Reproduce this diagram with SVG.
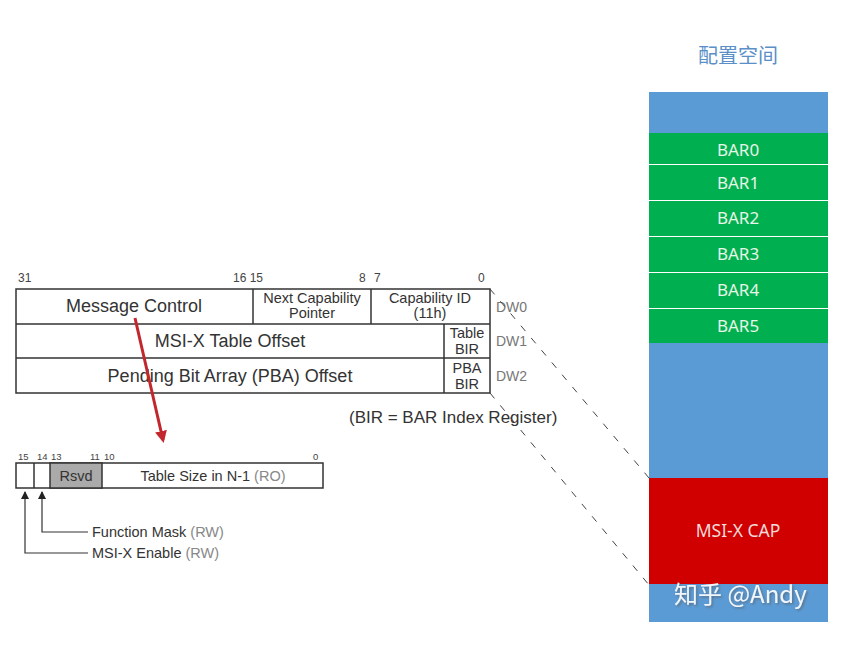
<svg xmlns="http://www.w3.org/2000/svg" width="841" height="658" viewBox="0 0 841 658">
<style>
text{font-family:"Liberation Sans",Arial,sans-serif;fill:#333}
.box{fill:#fff;stroke:#333;stroke-width:1.5}
.bit{font-size:12px;fill:#444}
.sbit{font-size:9.5px;fill:#444}
.dw{font-size:14px;fill:#777}
.mid{text-anchor:middle}
.reg{font-size:18px}
.small{font-size:14.5px}
.gray{fill:#888}
.bar{font-family:"Noto Sans","Liberation Sans",sans-serif;font-size:17px;fill:#e8f5e8;text-anchor:middle}
.dash{stroke:#444;stroke-width:1;stroke-dasharray:7,9;fill:none}
.lead{stroke:#333;stroke-width:1.2;fill:none}
.lbl{font-size:14.5px}
</style>
<defs>
<marker id="redhead" markerWidth="12" markerHeight="12" refX="9" refY="6" orient="auto" markerUnits="userSpaceOnUse">
<path d="M0,0 L12,6 L0,12 z" fill="#c1272d"/>
</marker>
<marker id="blackhead" markerWidth="8" markerHeight="9" refX="7" refY="4" orient="auto" markerUnits="userSpaceOnUse">
<path d="M0,0 L8,4 L0,8 z" fill="#222"/>
</marker>
<filter id="shadow" x="-10%" y="-30%" width="120%" height="160%">
<feDropShadow dx="1.5" dy="1.5" stdDeviation="1" flood-color="#555" flood-opacity="0.6"/>
</filter>
</defs>
<rect width="841" height="658" fill="#fff"/>

<g id="config-space">
<text x="738" y="63" class="mid" style="font-family:'Noto Sans CJK SC',sans-serif;font-size:20px;fill:#5b8fc7">配置空间</text>
<rect x="649" y="92" width="179" height="41" fill="#5b9bd5"/>
<rect x="649" y="343" width="179" height="135" fill="#5b9bd5"/>
<rect x="649" y="584" width="179" height="38" fill="#5b9bd5"/>
<rect x="649" y="478" width="179" height="106" fill="#d00000"/>
</g>
<g id="bar0"><rect x="649" y="133" width="179" height="31" fill="#00b050"/><text x="738" y="156" class="bar">BAR0</text></g>
<g id="bar1"><rect x="649" y="165" width="179" height="35" fill="#00b050"/><text x="738" y="189" class="bar">BAR1</text></g>
<g id="bar2"><rect x="649" y="201" width="179" height="35" fill="#00b050"/><text x="738" y="224" class="bar">BAR2</text></g>
<g id="bar3"><rect x="649" y="237" width="179" height="35" fill="#00b050"/><text x="738" y="260" class="bar">BAR3</text></g>
<g id="bar4"><rect x="649" y="273" width="179" height="35" fill="#00b050"/><text x="738" y="296" class="bar">BAR4</text></g>
<g id="bar5"><rect x="649" y="309" width="179" height="34" fill="#00b050"/><text x="738" y="332" class="bar">BAR5</text></g>
<g id="msix-cap"><text x="738" y="537" class="bar" style="fill:#f4dada;font-size:17.5px">MSI-X CAP</text></g>
<g id="watermark">
<text x="674" y="603" filter="url(#shadow)" style="font-family:'Noto Sans CJK SC',sans-serif;font-size:24px;fill:#f2f6fb">知乎 @Andy</text>
</g>

<g id="capability-table">
<text x="18" y="282" class="bit">31</text>
<text x="233" y="282" class="bit">16 15</text>
<text x="359" y="282" class="bit">8</text>
<text x="374" y="282" class="bit">7</text>
<text x="478" y="282" class="bit">0</text>
<rect x="16" y="289" width="474" height="104" class="box"/>
<line x1="16" y1="324" x2="490" y2="324" class="box"/>
<line x1="16" y1="358" x2="490" y2="358" class="box"/>
<line x1="253" y1="289" x2="253" y2="324" class="box"/>
<line x1="371" y1="289" x2="371" y2="324" class="box"/>
<line x1="444" y1="324" x2="444" y2="393" class="box"/>
<text x="134" y="312" class="reg mid">Message Control</text>
<text x="312" y="303" class="small mid">Next Capability</text>
<text x="312" y="318" class="small mid">Pointer</text>
<text x="430" y="303" class="small mid">Capability ID</text>
<text x="430" y="318" class="small mid">(11h)</text>
<text x="230" y="347" class="reg mid">MSI-X Table Offset</text>
<text x="467" y="338" class="small mid">Table</text>
<text x="467" y="354" class="small mid">BIR</text>
<text x="230" y="382" class="reg mid">Pending Bit Array (PBA) Offset</text>
<text x="467" y="373" class="small mid">PBA</text>
<text x="467" y="389" class="small mid">BIR</text>
<text x="496" y="312" class="dw">DW0</text>
<text x="496" y="346" class="dw">DW1</text>
<text x="496" y="381" class="dw">DW2</text>
<text x="349" y="423" style="font-size:17px">(BIR = BAR Index Register)</text>
</g>

<g id="message-control">
<text x="18" y="460" class="sbit">15</text>
<text x="37" y="460" class="sbit">14</text>
<text x="51" y="460" class="sbit">13</text>
<text x="90" y="460" class="sbit">11</text>
<text x="104" y="460" class="sbit">10</text>
<text x="313" y="460" class="sbit">0</text>
<rect x="16" y="463" width="307" height="25" class="box"/>
<rect x="50" y="463" width="52" height="25" fill="#aaa" stroke="#333" stroke-width="1.5"/>
<line x1="34" y1="463" x2="34" y2="488" class="box"/>
<text x="76" y="481" class="mid lbl">Rsvd</text>
<text x="213" y="481" class="mid lbl">Table Size in N-1 <tspan class="gray">(RO)</tspan></text>
<text x="92" y="537" class="lbl">Function Mask <tspan class="gray">(RW)</tspan></text>
<text x="92" y="558" class="lbl">MSI-X Enable <tspan class="gray">(RW)</tspan></text>
</g>

<g id="connectors">
<path d="M490,289 L649,478" class="dash"/>
<path d="M490,393 L649,585" class="dash"/>
<path d="M135,318 L163,440" stroke="#c1272d" stroke-width="3" fill="none" marker-end="url(#redhead)"/>
<path d="M88,553 L25,553 L25,492" class="lead" marker-end="url(#blackhead)"/>
<path d="M88,532 L42,532 L42,492" class="lead" marker-end="url(#blackhead)"/>
</g>
</svg>
